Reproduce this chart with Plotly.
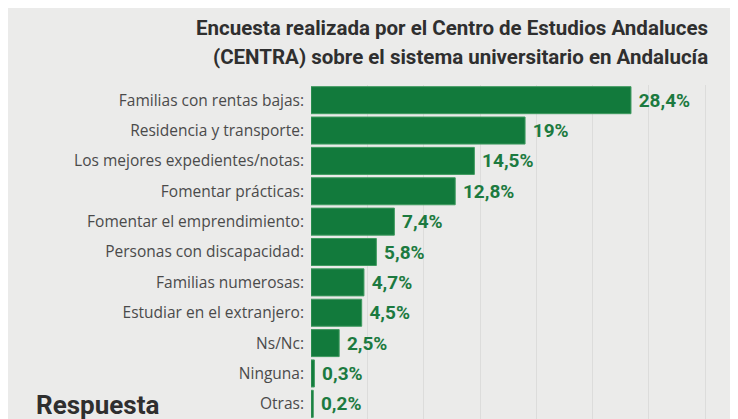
import plotly.graph_objects as go

# encuesta CENTRA: ayudas/becas prioritarias
categorias = [
    "Familias con rentas bajas:",
    "Residencia y transporte:",
    "Los mejores expedientes/notas:",
    "Fomentar prácticas:",
    "Fomentar el emprendimiento:",
    "Personas con discapacidad:",
    "Familias numerosas:",
    "Estudiar en el extranjero:",
    "Ns/Nc:",
    "Ninguna:",
    "Otras:",
]
porcentajes = [28.4, 19, 14.5, 12.8, 7.4, 5.8, 4.7, 4.5, 2.5, 0.3, 0.2]
etiquetas = ["28,4%", "19%", "14,5%", "12,8%", "7,4%", "5,8%", "4,7%",
             "4,5%", "2,5%", "0,3%", "0,2%"]

verde = "#127a3c"
fondo = "#ebebea"

fig = go.Figure()
fig.add_trace(
    go.Bar(
        x=porcentajes,
        y=categorias,
        orientation="h",
        marker=dict(color=verde, line=dict(color="#3f9a5f", width=1)),
        text=[" " + t for t in etiquetas],
        textposition="outside",
        textfont=dict(family="Roboto, sans-serif", size=19, color="#1c7a40"),
        texttemplate="<b>%{text}</b>",
        cliponaxis=False,
        hoverinfo="skip",
    )
)

# the page body adds 8px, so the figure is 8px smaller than the window
fig.update_layout(
    width=730,
    height=411,
    margin=dict(l=303, r=0, t=77, b=0),
    paper_bgcolor=fondo,
    plot_bgcolor=fondo,
    bargap=0.11,
    showlegend=False,
    xaxis=dict(
        range=[0, 37.9],
        dtick=5,
        showgrid=True,
        gridcolor="#dcdcdb",
        gridwidth=1,
        zeroline=False,
        showticklabels=False,
    ),
    yaxis=dict(
        autorange="reversed",
        showgrid=False,
        ticks="",
        ticklabelstandoff=6,
        tickfont=dict(family="Open Sans, sans-serif", size=15.5, color="#4a4a4a"),
    ),
)

titulo_font = dict(family="Roboto, sans-serif", size=20.5, color="#2f2f2f")
fig.add_annotation(
    text="<b>Encuesta realizada por el Centro de Estudios Andaluces</b>",
    xref="paper", yref="paper", x=0.934, y=1.171,
    xanchor="right", yanchor="middle", showarrow=False, font=titulo_font,
)
fig.add_annotation(
    text="<b>(CENTRA) sobre el sistema universitario en Andalucía</b>",
    xref="paper", yref="paper", x=0.934, y=1.084,
    xanchor="right", yanchor="middle", showarrow=False, font=titulo_font,
)
fig.add_annotation(
    text="<b>Respuesta</b>",
    xref="paper", yref="paper", x=-0.648, y=0.093,
    xanchor="left", yanchor="top", showarrow=False,
    font=dict(family="Roboto, sans-serif", size=26, color="#2f2f2f"),
)

fig.write_html("out.html")
